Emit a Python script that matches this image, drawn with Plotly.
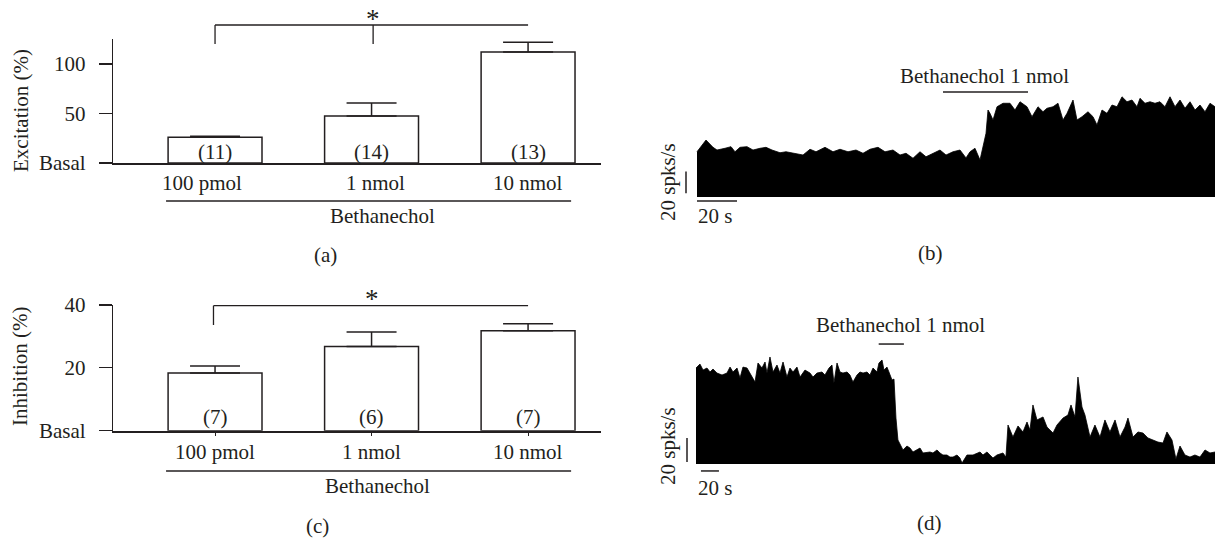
import plotly.graph_objects as go

W, H = 1215, 543
INK = "#231f20"
FONT = "Liberation Serif"
FS = 21

# ---------------- data ----------------
doses = ["100 pmol", "1 nmol", "10 nmol"]
dose_idx = [0, 1, 2]
exc_mean = [26, 47.5, 112]
exc_sem = [1, 13, 10]
exc_n = ["(11)", "(14)", "(13)"]
inh_mean = [18.4, 26.8, 31.8]
inh_sem = [2.2, 4.6, 2.2]
inh_n = ["(7)", "(6)", "(7)"]
exc_ticks = [0, 50, 100]
exc_ticktext = ["Basal", "50", "100"]
inh_ticks = [0, 20, 40]
inh_ticktext = ["Basal", "20", "40"]

# (b) firing-rate trace: time (s), rate (spks/s)
b_time = [0, 4.5, 8, 10, 14, 17, 19, 21.5, 25, 28, 31.5, 34.5, 37.5, 41.5, 44.5, 49, 53, 56.5, 59.5, 64,
          68, 71.5, 75.5, 79.5, 83, 86.5, 90.5, 94, 98, 101.5, 104.5, 108, 111.5, 114.5, 118, 121.5, 124.5,
          128, 131.5, 134.5, 136.5, 139, 141.5, 143, 144.5, 145.5, 146.5, 148, 150, 153, 156.5, 159, 161.5,
          165, 167.5, 170.5, 173, 175, 178, 180.5, 183, 185, 188, 190, 192.5, 195.5, 198, 200, 202.5, 205,
          207.5, 210, 212.5, 215, 217.5, 220, 221.5, 224, 226.5, 229, 231.5, 234, 236.5, 239, 241.5, 244,
          246.5, 249, 251.5, 254, 256.5, 259]
b_rate = [41.7, 52.5, 45.8, 43.3, 44.9, 46.4, 41.7, 45.8, 46.4, 43.3, 44.9, 45.8, 43.3, 40.8, 41.7, 40.3,
          38.7, 44, 41.7, 45.8, 41.7, 44, 41.7, 43.3, 40.3, 44, 45.8, 41.7, 43.3, 38.7, 40.3, 35.7, 41.7,
          37.1, 40.3, 43.3, 38.7, 41.7, 43.3, 36, 41.7, 44.9, 34.1, 46.4, 58.7, 80.2, 77.1, 71, 83.2, 86.4,
          86.4, 80.2, 87.8, 83.2, 74, 83.2, 78.6, 81.8, 83.2, 86.4, 71, 77.1, 89.4, 71, 74, 78.6, 74, 66.4,
          80.2, 77.1, 84.8, 83.2, 92.4, 87.8, 89.4, 83.2, 91, 86.4, 87.8, 86.4, 87.8, 83.2, 92.4, 83.2,
          89.4, 81.8, 87.8, 80.2, 84.8, 78.6, 86.4, 83.2]
b_drug = [123, 165.5]

# (d) firing-rate trace: time (s), rate (spks/s)
d_time = [0, 4.4, 7.8, 12.2, 15.6, 18.9, 23.3, 28.9, 34.4, 37.8, 41.1, 45.6, 48.9, 52.2, 56.7, 60, 65.6,
          68.9, 73.3, 76.7, 78.9, 82.2, 85.6, 90, 93.3, 96.7, 101.1, 104.4, 107.8, 112.2, 115.6, 121.1,
          126.7, 130, 134.4, 140, 143.3, 147.8, 151.1, 153.3, 156.7, 160, 163.3, 167.8, 171.1, 174.4,
          178.9, 182.2, 185.6, 190, 193.3, 196.7, 201.1, 203.3, 206.7, 208.9, 212.2, 214.4, 217.8, 220,
          222.2, 224.4, 227.8, 230, 234.4, 237.8, 241.1, 245.6, 248.9, 252.2, 256.7, 260, 263.3, 267.8,
          271.1, 274.4, 278.9, 282.2, 285.6, 290, 293.3, 295.6, 301.1, 307.8, 315.6, 318.9, 323.3, 330,
          334.4, 341.1, 344.4, 346.7, 352.2, 357.8, 363.3, 367.8, 371.1, 374.4, 378.9, 385.6, 390, 396.7,
          401.1, 407.8, 413.3, 416.7, 421.1, 424.4, 428.9, 432.2, 437.8, 443.3, 448.9, 454.4, 460, 465.6,
          471.1, 476.7, 480, 485.6, 491.1, 496.7, 502.2, 507.8, 513.3, 518.9, 523.3, 528.9, 533.3, 537.8,
          543.3, 548.9, 554.4, 560, 565.6, 571.1, 576.7]
d_rate = [80, 83.3, 78.3, 80, 76.7, 79.2, 75.8, 74.2, 75.8, 80.8, 76.7, 80, 71.7, 80.8, 80, 75.8, 68.3,
          84.2, 80, 85, 75.8, 89.2, 76.7, 82.5, 75.8, 85, 72.5, 80, 76.7, 80.8, 72.5, 78.3, 75.8, 72.5,
          75.8, 76.7, 74.2, 80, 82.5, 67.5, 84.2, 76.7, 75.8, 76.7, 74.2, 68.3, 74.2, 76.7, 75.8, 76.7,
          74.2, 80, 76.7, 84.2, 86.7, 78.3, 80.8, 76.7, 70, 70.8, 38.3, 20, 14.2, 11.7, 15, 13.3, 10, 11.7,
          13.3, 9.2, 10, 10, 9.2, 11.7, 9.2, 7.5, 7.5, 5.8, 5.8, 7.5, 5, 0.8, 7.5, 7.5, 10, 7.5, 10, 5,
          7.5, 9.2, 5.8, 32.5, 22.5, 31.7, 26.7, 35, 28.3, 49.2, 36.7, 39.2, 30.8, 25.8, 32.5, 38.3, 40.8,
          49.2, 39.2, 72.5, 47.5, 40.8, 22.5, 32.5, 22.5, 36.7, 26.7, 36.7, 22.5, 30.8, 38.3, 22.5, 26.7,
          25.8, 21.7, 20, 18.3, 17.5, 26.7, 20, 4.2, 15, 7.5, 5.8, 7.5, 5.8, 11.7, 9.2, 10]
d_drug = [203, 231]


def py(p):
    return 1 - p / H


def px(p):
    return p / W


fig = go.Figure()

# ---------------- bar panels ----------------
for xa, ya, mean, sem in [("x", "y", exc_mean, exc_sem), ("x2", "y2", inh_mean, inh_sem)]:
    fig.add_trace(go.Bar(
        x=dose_idx, y=mean, width=0.6, xaxis=xa, yaxis=ya,
        marker=dict(color="white", line=dict(color=INK, width=1.5)),
        error_y=dict(type="data", array=sem, arrayminus=[0] * len(sem), symmetric=False,
                     color=INK, thickness=1.5, width=25),
        showlegend=False, hoverinfo="skip"))

# ---------------- traces ----------------
fig.add_trace(go.Scatter(x=b_time, y=b_rate, xaxis="x3", yaxis="y3", mode="lines",
                         line=dict(color="black", width=0.8), fill="tozeroy", fillcolor="black",
                         showlegend=False, hoverinfo="skip"))
fig.add_trace(go.Scatter(x=d_time, y=d_rate, xaxis="x4", yaxis="y4", mode="lines",
                         line=dict(color="black", width=0.8), fill="tozeroy", fillcolor="black",
                         showlegend=False, hoverinfo="skip"))

xr = [-0.652, 2.466]
common_x = dict(range=xr, showgrid=False, zeroline=False, showticklabels=False,
                showline=True, linecolor=INK, linewidth=2, fixedrange=True, automargin=False)
common_y = dict(showgrid=False, zeroline=False, showline=True, linecolor=INK, linewidth=1.2,
                ticks="outside", ticklen=13, tickwidth=1.2, tickcolor=INK, automargin=False,
                fixedrange=True,
                tickfont=dict(family=FONT, size=FS, color=INK), ticklabelstandoff=9)

fig.update_layout(
    template=None,
    width=W, height=H, autosize=False,
    margin=dict(l=0, r=0, t=0, b=0, pad=0, autoexpand=False),
    paper_bgcolor="white", plot_bgcolor="rgba(0,0,0,0)",
    font=dict(family=FONT, size=FS, color=INK),
    xaxis=dict(domain=[px(113), px(601)], anchor="y", ticks="", **common_x),
    yaxis=dict(domain=[py(163), py(39)], anchor="x", range=[0, 125.25],
               tickvals=exc_ticks, ticktext=exc_ticktext, **common_y),
    xaxis2=dict(domain=[px(113), px(601)], anchor="y2", ticks="outside", ticklen=3,
                tickcolor=INK, tickvals=dose_idx, **common_x),
    yaxis2=dict(domain=[py(430.7), py(305)], anchor="x2", range=[0, 40],
                tickvals=inh_ticks, ticktext=inh_ticktext, **common_y),
    xaxis3=dict(domain=[px(660), 1], anchor="y3", range=[-18.5, 259], visible=False, automargin=False),
    yaxis3=dict(domain=[py(210), py(60)], anchor="x3", range=[-12, 126.3], visible=False, automargin=False),
    xaxis4=dict(domain=[px(660), 1], anchor="y4", range=[-40, 576.7], visible=False, automargin=False),
    yaxis4=dict(domain=[py(485), py(330)], anchor="x4", range=[-17.5, 111.7], visible=False, automargin=False),
)

shapes = []
ann = []


def line(xref, yref, x0, y0, x1, y1, w=1.3):
    shapes.append(dict(type="line", xref=xref, yref=yref, x0=x0, y0=y0, x1=x1, y1=y1,
                       line=dict(color=INK, width=w)))


def text(t, xref, yref, x, y, angle=0, xshift=0, yshift=0, size=FS):
    ann.append(dict(text=t, xref=xref, yref=yref, x=x, y=y, showarrow=False, textangle=angle,
                    xshift=xshift, yshift=yshift, font=dict(family=FONT, size=size, color=INK),
                    xanchor="center", yanchor="middle"))


# panel (a) decorations
for i, t in enumerate(exc_n):
    text(t, "x", "y", dose_idx[i], 0, yshift=11.5)
for i, (d, s) in enumerate(zip(doses, [-13, 4, 0])):
    text(d, "x", "paper", dose_idx[i], py(183), xshift=s)
line("x", "paper", -0.313, py(201), 2.275, py(201))
text("Bethanechol", "x", "paper", 1.067, py(216))
line("x", "paper", 0, py(25), 2, py(25))
line("x", "paper", 0, py(25), 0, py(44))
line("x", "paper", 1.01, py(25), 1.01, py(44))
text("*", "x", "paper", 1.01, py(19), size=27)
text("Excitation (%)", "paper", "paper", px(21), py(111), angle=-90)
text("(a)", "paper", "paper", px(325), py(255))

# panel (c) decorations
for i, t in enumerate(inh_n):
    text(t, "x2", "y2", dose_idx[i], 0, yshift=14)
for i, d in enumerate(doses):
    text(d, "x2", "paper", dose_idx[i], py(452))
line("x2", "paper", -0.313, py(471), 2.275, py(471))
text("Bethanechol", "x2", "paper", 1.04, py(486))
line("x2", "paper", -0.01, py(305.7), 2.0, py(305.7))
line("x2", "paper", -0.01, py(305.7), -0.01, py(325))
text("*", "x2", "paper", 1.0, py(299), size=27)
text("Inhibition (%)", "paper", "paper", px(20), py(366), angle=-90)
text("(c)", "paper", "paper", px(317), py(526))

# panel (b) decorations
line("x3", "y3", b_drug[0], 96.8, b_drug[1], 96.8, w=1.5)
text("Bethanechol 1 nmol", "x3", "paper", 143.5, py(76))
line("x3", "y3", -5.5, 3.5, -5.5, 23.5, w=1.5)
line("x3", "y3", 0, -3.7, 20, -3.7, w=1.5)
text("20 spks/s", "x3", "paper", -14.5, py(182), angle=-90)
text("20 s", "x3", "paper", 9, py(216))
text("(b)", "paper", "paper", px(930), py(253))

# panel (d) decorations
line("x4", "y4", d_drug[0], 100, d_drug[1], 100, w=1.5)
text("Bethanechol 1 nmol", "x4", "paper", 226.7, py(325))
line("x4", "y4", -10, 1.7, -10, 21.7, w=1.5)
line("x4", "y4", 5.5, -5.8, 25.5, -5.8, w=1.5)
text("20 spks/s", "x4", "paper", -31.1, py(446), angle=-90)
text("20 s", "x4", "paper", 21, py(488))
text("(d)", "paper", "paper", px(929), py(523))

fig.update_layout(shapes=shapes, annotations=ann)
fig.write_html("out.html", config={"displayModeBar": False, "staticPlot": True},
               post_script="document.body.style.margin='0px';document.body.style.overflow='hidden';")
